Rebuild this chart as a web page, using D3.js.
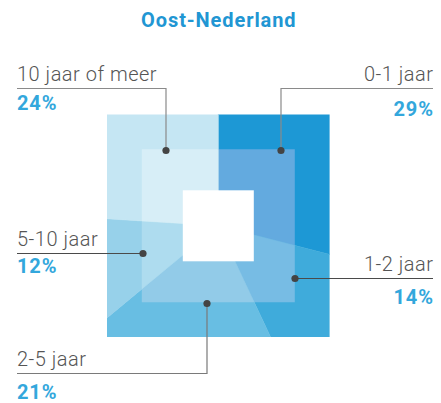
<!DOCTYPE html>
<html>
<head>
<meta charset="utf-8">
<script src="https://cdn.jsdelivr.net/npm/d3@7"></script>
<style>
  html, body { margin: 0; padding: 0; background: #fff; }
  svg { display: block; }
</style>
</head>
<body>
<svg id="chart" width="441" height="403"></svg>
<script>
// ---- data ----
const title = "Oost-Nederland";
const categories = ["0-1 jaar", "1-2 jaar", "2-5 jaar", "5-10 jaar", "10 jaar of meer"];
const values = [29, 14, 21, 12, 24];
const outerColors = ["#1D98D5", "#3FABDB", "#68BEE3", "#97D1EA", "#C5E6F3"];
const innerColors = ["#63AADF", "#77BCE4", "#92CBE8", "#AEDCEF", "#D7EEF7"];

// ---- layout ----
const W = 441, H = 403;
const cx = 218.3, cy = 225.8;
const outerHalf = 111.3, innerHalf = 76.5, holeHalf = 35.5;
const labelLayout = [
  { side: "right", dot: [281, 150.5], lineY: 88.5, labelY: 81, valueY: 115.5 },
  { side: "right", dot: [295, 278.5], lineY: 278.5, labelY: 270.5, valueY: 304 },
  { side: "left",  dot: [207, 303.5], lineY: 373.5, labelY: 365.5, valueY: 398.5 },
  { side: "left",  dot: [143, 253.5], lineY: 253.5, labelY: 245.5, valueY: 273 },
  { side: "left",  dot: [166, 150.5], lineY: 88.5, labelY: 81, valueY: 110 }
];
const lineColors = ["#8a8a8a", "#4a4a4a", "#7a7a7a", "#4a4a4a", "#8a8a8a"];
const leftX = 17, rightX = 433;

const svg = d3.select("#chart");
const defs = svg.append("defs");
defs.append("clipPath").attr("id", "outerClip")
  .append("rect").attr("x", cx - outerHalf).attr("y", cy - outerHalf)
  .attr("width", outerHalf * 2).attr("height", outerHalf * 2);
defs.append("clipPath").attr("id", "innerClip")
  .append("rect").attr("x", cx - innerHalf).attr("y", cy - innerHalf)
  .attr("width", innerHalf * 2).attr("height", innerHalf * 2);

const pie = d3.pie().sort(null).value(d => d)(values);
const arc = d3.arc().innerRadius(0).outerRadius(outerHalf * 1.6);

svg.append("g").attr("clip-path", "url(#outerClip)")
  .append("g").attr("transform", `translate(${cx},${cy})`)
  .selectAll("path").data(pie).join("path")
  .attr("d", arc)
  .attr("fill", (d, i) => outerColors[i])
  .attr("stroke", (d, i) => outerColors[i]).attr("stroke-width", 0.5);

svg.append("g").attr("clip-path", "url(#innerClip)")
  .append("g").attr("transform", `translate(${cx},${cy})`)
  .selectAll("path").data(pie).join("path")
  .attr("d", arc)
  .attr("fill", (d, i) => innerColors[i])
  .attr("stroke", (d, i) => innerColors[i]).attr("stroke-width", 0.5);

svg.append("rect")
  .attr("x", cx - holeHalf).attr("y", cy - holeHalf)
  .attr("width", holeHalf * 2).attr("height", holeHalf * 2)
  .attr("fill", "#fff");

// title
svg.append("text")
  .attr("x", cx + 0.5).attr("y", 27)
  .attr("text-anchor", "middle")
  .attr("font-family", "Roboto, 'DejaVu Sans', sans-serif")
  .attr("font-weight", 700)
  .attr("font-size", 20)
  .attr("letter-spacing", 0.9)
  .attr("fill", "#2196D3")
  .text(title);

const lab = svg.append("g");
categories.forEach((c, i) => {
  const L = labelLayout[i];
  const isLeft = L.side === "left";
  const edgeX = isLeft ? leftX : rightX;
  const anchor = isLeft ? "start" : "end";
  let pts;
  if (Math.abs(L.lineY - L.dot[1]) < 0.01) {
    pts = [[edgeX, L.lineY], L.dot];
  } else {
    pts = [[edgeX, L.lineY], [L.dot[0], L.lineY], L.dot];
  }
  lab.append("path")
    .attr("d", d3.line()(pts))
    .attr("fill", "none")
    .attr("stroke", lineColors[i])
    .attr("stroke-width", 1.2);
  lab.append("circle")
    .attr("cx", L.dot[0]).attr("cy", L.dot[1]).attr("r", 3.6)
    .attr("fill", "#444");
  const ls1 = 0.5, ls2 = 0.9;
  lab.append("text")
    .attr("x", isLeft ? edgeX : edgeX + ls1).attr("y", L.labelY)
    .attr("text-anchor", anchor)
    .attr("font-family", "Roboto, 'DejaVu Sans', sans-serif")
    .attr("font-weight", 300)
    .attr("font-size", 20)
    .attr("letter-spacing", ls1)
    .attr("fill", "#555")
    .text(c);
  lab.append("text")
    .attr("x", isLeft ? edgeX : edgeX + ls2).attr("y", L.valueY)
    .attr("text-anchor", anchor)
    .attr("font-family", "Roboto, 'DejaVu Sans', sans-serif")
    .attr("font-weight", 700)
    .attr("font-size", 20)
    .attr("letter-spacing", ls2)
    .attr("fill", "#33A7DC")
    .text(values[i] + "%");
});
</script>
</body>
</html>
